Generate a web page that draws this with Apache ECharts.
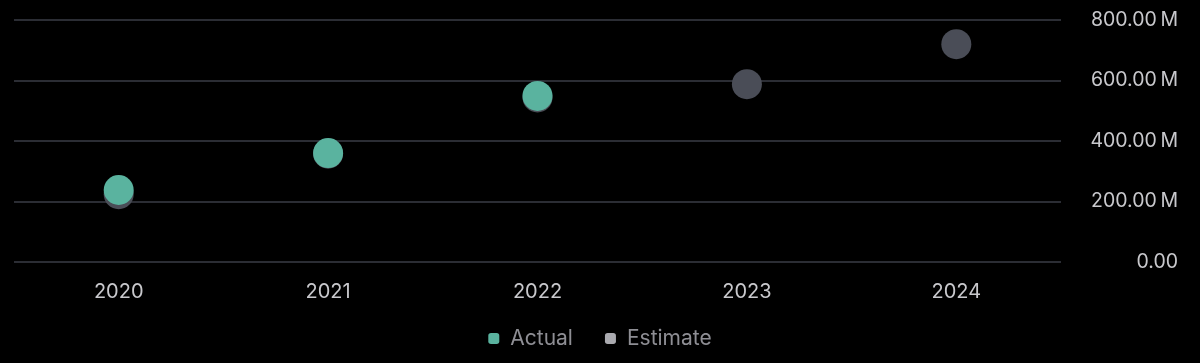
<!DOCTYPE html>
<html>
<head>
<meta charset="utf-8">
<script src="https://cdn.jsdelivr.net/npm/echarts@6/dist/echarts.min.js"></script>
<style>
html,body{margin:0;padding:0;background:#000;}
#c{width:1200px;height:363px;}
</style>
</head>
<body>
<div id="c"></div>
<script>
const categories = ['2020', '2021', '2022', '2023', '2024'];
const actualValues = [238e6, 360e6, 549e6, null, null];
const estimateValues = [224e6, 358e6, 544e6, 588e6, 720e6];
const yTicks = [0, 200e6, 400e6, 600e6, 800e6];

function fmt(v) {
  if (v === 0) return '0.00';
  return (v / 1e6).toFixed(2) + '\u2009M';
}

const FONT = 'Inter, "Noto Sans", sans-serif';
const chart = echarts.init(document.getElementById('c'));
chart.setOption({
  backgroundColor: '#000000',
  animation: false,
  grid: { left: 14, right: 139, top: 20, bottom: 101 },
  legend: {
    bottom: 9,
    left: 'center',
    icon: 'roundRect',
    itemWidth: 11,
    itemHeight: 11,
    itemGap: 32,
    textStyle: { color: '#8e8e94', fontSize: 21, fontFamily: FONT, padding: [0, 0, 0, 6] },
    data: [
      { name: 'Actual', itemStyle: { color: '#5ab39f' } },
      { name: 'Estimate', itemStyle: { color: '#aaaaaf' } }
    ]
  },
  xAxis: {
    type: 'category',
    data: categories,
    boundaryGap: true,
    axisLine: { show: false },
    axisTick: { show: false },
    axisLabel: { color: '#c8c8cc', fontSize: 20, margin: 20, fontFamily: FONT }
  },
  yAxis: {
    type: 'value',
    position: 'right',
    min: yTicks[0],
    max: yTicks[yTicks.length - 1],
    interval: yTicks[1] - yTicks[0],
    axisLine: { show: false },
    axisTick: { show: false },
    splitLine: { lineStyle: { color: '#3a3c46', width: 1.5 } },
    axisLabel: {
      color: '#c8c8cc', fontSize: 19.5, align: 'right', margin: 117,
      fontFamily: FONT,
      formatter: fmt
    }
  },
  series: [
    {
      name: 'Estimate',
      type: 'scatter',
      data: estimateValues,
      symbolSize: 30,
      z: 2,
      itemStyle: { color: '#4a4d57', opacity: 1 }
    },
    {
      name: 'Actual',
      type: 'scatter',
      data: actualValues,
      symbolSize: 30,
      z: 3,
      itemStyle: { color: '#5ab39f', opacity: 1 }
    }
  ]
});
</script>
</body>
</html>
